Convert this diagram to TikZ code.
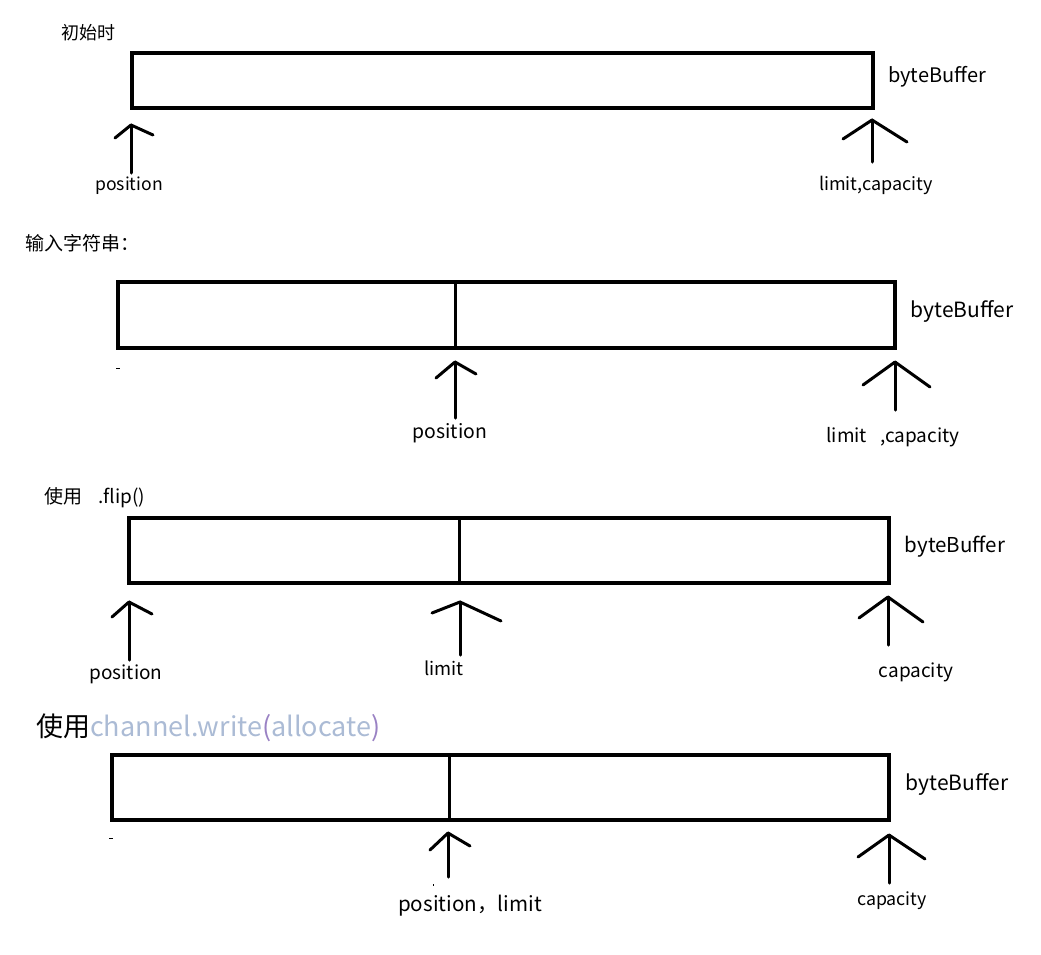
\documentclass[tikz,border=0pt]{standalone}
\usepackage{fontspec}
\setmainfont{Noto Sans CJK SC}
\usetikzlibrary{positioning}
\definecolor{ink}{HTML}{000000}
\definecolor{codegray}{HTML}{ABBBD5}
\definecolor{parenviolet}{HTML}{9A82C4}
\tikzset{
  buf/.style={draw=ink,line width=3.5pt,inner sep=0pt,fill=white},
  divider/.style={draw=ink,line width=3pt},
  ptr/.style={draw=ink,line width=3pt,line cap=round,line join=round},
  fleck/.style={draw=ink,line width=1pt},
  tag/.style={text=ink,inner sep=0pt,font=\fontsize{18}{18}\selectfont},
  bigtag/.style={tag,font=\fontsize{20.5}{20.5}\selectfont},
  heading/.style={tag,font=\fontsize{18}{18}\selectfont}
}

\begin{document}
\begin{tikzpicture}[x=1pt,y=-1pt]
    \useasboundingbox (0,0) rectangle (1041,954);

    % step 1: initial state
    \node[heading] (h1) at (88,33) {初始时};
    \node[buf,minimum width=741pt,minimum height=55pt] (b1) at (502.5,80.5) {};
    \node[tag,font=\fontsize{20}{20}\selectfont] (n1) at (937,77) {byteBuffer};
    \node[tag,font=\fontsize{17.6}{17.6}\selectfont] (pos1) at (129,186) {position};
    \node[tag] (lim1) at (876,185) {limit,capacity};

    % step 2: after writing a string
    \node[heading,font=\fontsize{19}{19}\selectfont] (h2) at (82,243) {输入字符串：};
    \node[buf,minimum width=777pt,minimum height=66pt] (b2) at (506.5,315) {};
    \draw[divider] (b2.north -| 455,0) -- (b2.south -| 455,0);
    \node[bigtag,font=\fontsize{21}{21}\selectfont] (n2) at (962,311) {byteBuffer};
    \node[tag,font=\fontsize{19.4}{19.4}\selectfont] (pos2) at (450,433) {position};
    \node[tag,font=\fontsize{19}{19}\selectfont] (lim2) at (893,437) {limit\hspace{13pt},capacity};
    \draw[fleck] (116,368) -- (120,368);

    % step 3: flip()
    \node[heading,font=\fontsize{19}{19}\selectfont] (h3) at (95,498) {使用\hspace{16pt}.flip()};
    \node[buf,minimum width=760pt,minimum height=65pt] (b3) at (509,550.5) {};
    \draw[divider] (b3.north -| 459,0) -- (b3.south -| 459,0);
    \node[bigtag] (n3) at (955,547) {byteBuffer};
    \node[tag,font=\fontsize{19}{19}\selectfont] (pos3) at (126,674) {position};
    \node[tag,font=\fontsize{18.4}{18.4}\selectfont] (lim3) at (444,668) {limit};
    \node[tag,font=\fontsize{19}{19}\selectfont] (cap3) at (916,672) {capacity};

    % step 4: channel.write
    \node[tag,font=\fontsize{27}{27}\selectfont,anchor=west] (h4) at (36,728)
      {使用\textcolor{codegray}{channel.write}\textcolor{parenviolet}{\itshape(}\textcolor{codegray}{allocate}\textcolor{parenviolet}{\itshape)}};
    \node[buf,minimum width=777pt,minimum height=65pt] (b4) at (500.5,787.5) {};
    \draw[divider] (b4.north -| 449,0) -- (b4.south -| 449,0);
    \node[bigtag,font=\fontsize{21}{21}\selectfont] (n4) at (957,784) {byteBuffer};
    \node[tag,font=\fontsize{20.6}{20.6}\selectfont] (pos4) at (470,906) {position，limit};
    \node[tag,font=\fontsize{17.8}{17.8}\selectfont] (cap4) at (892,901) {capacity};
    \draw[fleck] (109,838) -- (113,838);
    \draw[fleck] (433,884) -- (433,886);

    % hand-drawn pointers: tip / left barb / right barb / shaft end
    \foreach \i/\tx/\ty/\lx/\ly/\rx/\ry/\by in {
        1/131/125/115/138/153/135/173,
        2/872/120/843/139/907/142/162,
        3/455/362/436/378/476/374/418,
        4/895/362/863/385/930/387/410,
        5/129/602/112/617/152/614/660,
        6/460/602/432/613/501/621/655,
        7/888/597/859/618/923/622/645,
        8/448/833/430/850/470/846/877,
        9/889/835/858/857/925/859/883}{
      \coordinate (tip\i) at (\tx,\ty);
      \coordinate (end\i) at (\tx,\by);
      \draw[ptr] (\lx,\ly) -- (tip\i) -- (\rx,\ry);
      \draw[ptr] (tip\i) -- (end\i);
    }
  \end{tikzpicture}
\end{document}
